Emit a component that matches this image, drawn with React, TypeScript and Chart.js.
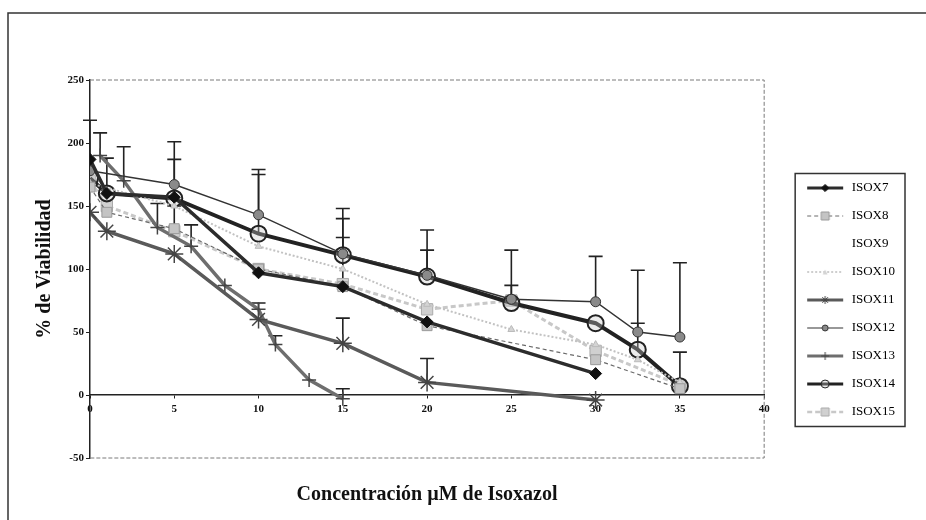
import React, { useEffect, useRef } from "react";
import { Chart, registerables } from "chart.js";

Chart.register(...registerables);

// ---------- data ----------
const seriesNames = ["ISOX7", "ISOX8", "ISOX9", "ISOX10", "ISOX11", "ISOX12", "ISOX13", "ISOX14", "ISOX15"];

const concISOX7 = [0, 1, 5, 10, 15, 20, 30];
const viabISOX7 = [187, 160, 157, 97, 86, 58, 17];
const errISOX7 = [31, 0, 0, 0, 0, 0, 0];

const concISOX8 = [0, 1, 5, 10, 15, 20, 30, 35];
const viabISOX8 = [165, 145, 132, 100, 86, 55, 28, 5];
const errISOX8 = [0, 0, 18, 0, 0, 0, 0, 0];

const concISOX9: number[] = [];
const viabISOX9: number[] = [];
const errISOX9: number[] = [];

const concISOX10 = [0, 5, 10, 15, 20, 25, 30, 32.5, 35];
const viabISOX10 = [168, 150, 118, 100, 72, 52, 40, 28, 10];
const errISOX10 = [0, 0, 0, 0, 0, 0, 0, 0, 0];

const concISOX11 = [0, 1, 5, 10, 15, 20, 30];
const viabISOX11 = [145, 130, 112, 60, 41, 10, -4];
const errISOX11 = [0, 0, 0, 0, 20, 19, 0];

const concISOX12 = [0, 5, 10, 15, 20, 25, 30, 32.5, 35];
const viabISOX12 = [178, 167, 143, 112, 95, 76, 74, 50, 46];
const errISOX12 = [0, 34, 36, 36, 36, 39, 36, 49, 59];

const concISOX13 = [0.6, 2, 4, 6, 8, 10, 11, 13, 15];
const viabISOX13 = [190, 170, 133, 118, 87, 68, 40, 12, -3];
const errISOX13 = [18, 27, 19, 17, 0, 5, 7, 0, 8];

const concISOX14 = [0, 1, 5, 10, 15, 20, 25, 30, 32.5, 35];
const viabISOX14 = [172, 160, 156, 128, 111, 94, 73, 57, 36, 7];
const errISOX14 = [0, 28, 31, 47, 29, 21, 14, 0, 21, 27];

const concISOX15 = [0, 1, 5, 10, 15, 20, 25, 30, 35];
const viabISOX15 = [170, 150, 130, 100, 88, 68, 75, 35, 8];
const errISOX15 = [0, 0, 0, 0, 37, 0, 0, 0, 0];

const xTickMin = 0;
const xTickMax = 40;
const xTickStep = 5;
const yTickMin = -50;
const yTickMax = 250;
const yTickStep = 50;

const xTitle = "Concentración µM de Isoxazol";
const yTitle = "% de Viabilidad";

// ---------- styles ----------
type Sty = {
  line: string; width: number; dash: number[]; point: string; radius: number;
  fill: string; border: string; bw: number;
};
const styles: Sty[] = [
  { line: "#2c2c2c", width: 3.5, dash: [], point: "rectRot", radius: 6, fill: "#111", border: "#111", bw: 1 },
  { line: "#6a6a6a", width: 1.2, dash: [4, 3], point: "rect", radius: 7, fill: "#c4c4c4", border: "#9a9a9a", bw: 1 },
  { line: "rgba(0,0,0,0)", width: 0, dash: [], point: "circle", radius: 0, fill: "rgba(0,0,0,0)", border: "rgba(0,0,0,0)", bw: 0 },
  { line: "#c2c2c2", width: 2, dash: [2, 2], point: "triangle", radius: 4, fill: "#d4d4d4", border: "#bbb", bw: 1 },
  { line: "#5a5a5a", width: 3.5, dash: [], point: "star", radius: 9, fill: "#444", border: "#444", bw: 1.5 },
  { line: "#333", width: 1.5, dash: [], point: "circle", radius: 5, fill: "#8a8a8a", border: "#333", bw: 1 },
  { line: "#6e6e6e", width: 3.5, dash: [], point: "cross", radius: 7, fill: "#444", border: "#444", bw: 1.5 },
  { line: "#222", width: 4, dash: [], point: "circle", radius: 8, fill: "rgba(200,200,200,0.35)", border: "#222", bw: 2 },
  { line: "#c8c8c8", width: 3, dash: [5, 3], point: "rect", radius: 8, fill: "#d0d0d0", border: "#aaa", bw: 1 },
];

const concs = [concISOX7, concISOX8, concISOX9, concISOX10, concISOX11, concISOX12, concISOX13, concISOX14, concISOX15];
const viabs = [viabISOX7, viabISOX8, viabISOX9, viabISOX10, viabISOX11, viabISOX12, viabISOX13, viabISOX14, viabISOX15];
const errs = [errISOX7, errISOX8, errISOX9, errISOX10, errISOX11, errISOX12, errISOX13, errISOX14, errISOX15];

function makeSample(s: Sty): HTMLCanvasElement {
  const c = document.createElement("canvas");
  c.width = 66;
  c.height = 14;
  const ctx = c.getContext("2d")!;
  const y = 7;
  if (s.width > 0) {
    ctx.strokeStyle = s.line;
    ctx.lineWidth = Math.max(1, s.width * 0.8);
    ctx.setLineDash(s.dash);
    ctx.beginPath();
    ctx.moveTo(28, y);
    ctx.lineTo(64, y);
    ctx.stroke();
    ctx.setLineDash([]);
  }
  const cx = 46;
  const r = Math.min(4, s.radius * 0.6);
  if (s.radius > 0) {
    ctx.fillStyle = s.fill;
    ctx.strokeStyle = s.border;
    ctx.lineWidth = 1;
    ctx.beginPath();
    if (s.point === "rectRot") {
      ctx.moveTo(cx, y - r); ctx.lineTo(cx + r, y); ctx.lineTo(cx, y + r); ctx.lineTo(cx - r, y); ctx.closePath();
      ctx.fill(); ctx.stroke();
    } else if (s.point === "rect") {
      ctx.rect(cx - r, y - r, 2 * r, 2 * r); ctx.fill(); ctx.stroke();
    } else if (s.point === "circle") {
      ctx.arc(cx, y, r, 0, Math.PI * 2); ctx.fill(); ctx.stroke();
    } else if (s.point === "triangle") {
      ctx.moveTo(cx, y - r); ctx.lineTo(cx + r, y + r); ctx.lineTo(cx - r, y + r); ctx.closePath(); ctx.fill();
    } else if (s.point === "star") {
      for (let k = 0; k < 4; k++) {
        const a = (k * Math.PI) / 4;
        ctx.moveTo(cx - r * Math.cos(a), y - r * Math.sin(a));
        ctx.lineTo(cx + r * Math.cos(a), y + r * Math.sin(a));
      }
      ctx.stroke();
    } else if (s.point === "cross") {
      ctx.moveTo(cx - r, y); ctx.lineTo(cx + r, y); ctx.moveTo(cx, y - r); ctx.lineTo(cx, y + r); ctx.stroke();
    }
  }
  return c;
}

const plotFrame = {
  id: "plotFrame",
  beforeDraw(chart: any) {
    const { ctx, width, height } = chart;
    ctx.save();
    ctx.fillStyle = "#fff";
    ctx.fillRect(0, 0, width, height);
    ctx.strokeStyle = "#333";
    ctx.lineWidth = 1.5;
    ctx.beginPath();
    ctx.moveTo(8, height);
    ctx.lineTo(8, 13);
    ctx.lineTo(width, 13);
    ctx.stroke();
    ctx.restore();
  },
  beforeDatasetsDraw(chart: any) {
    const { ctx, chartArea: a } = chart;
    ctx.save();
    ctx.strokeStyle = "#7a7a7a";
    ctx.lineWidth = 1;
    ctx.setLineDash([4, 2]);
    ctx.beginPath();
    ctx.moveTo(a.left, a.top);
    ctx.lineTo(a.right, a.top);
    ctx.lineTo(a.right, a.bottom);
    ctx.lineTo(a.left, a.bottom);
    ctx.stroke();
    ctx.setLineDash([]);
    // error bars
    const ys = chart.scales.y;
    ctx.strokeStyle = "#222";
    ctx.lineWidth = 1.6;
    chart.data.datasets.forEach((ds: any, i: number) => {
      const e: number[] = errs[i];
      const meta = chart.getDatasetMeta(i);
      meta.data.forEach((pt: any, j: number) => {
        if (!e[j]) return;
        const v = viabs[i][j];
        const yTop = ys.getPixelForValue(v + e[j]);
        ctx.beginPath();
        ctx.moveTo(pt.x, pt.y);
        ctx.lineTo(pt.x, yTop);
        ctx.moveTo(pt.x - 7, yTop);
        ctx.lineTo(pt.x + 7, yTop);
        ctx.stroke();
      });
    });
    ctx.restore();
  },
  afterDraw(chart: any) {
    const lg = chart.legend;
    if (!lg || !lg.legendHitBoxes || !lg.legendHitBoxes.length) return;
    const hb = lg.legendHitBoxes;
    let l = Infinity, t = Infinity, r = -Infinity, b = -Infinity;
    hb.forEach((h: any) => {
      l = Math.min(l, h.left); t = Math.min(t, h.top);
      r = Math.max(r, h.left + h.width); b = Math.max(b, h.top + h.height);
    });
    const { ctx } = chart;
    ctx.save();
    ctx.strokeStyle = "#333";
    ctx.lineWidth = 1.5;
    ctx.strokeRect(l + 16, t - 8, r - l - 6, b - t + 16);
    ctx.restore();
  },
};

export default function App() {
  const ref = useRef<HTMLCanvasElement | null>(null);
  useEffect(() => {
    document.body.style.margin = "0";
    const samples = styles.map(makeSample);
    const datasets = seriesNames.map((name, i) => {
      const s = styles[i];
      return {
        label: name,
        data: concs[i].map((x, j) => ({ x, y: viabs[i][j] })),
        borderColor: s.line,
        borderWidth: s.width,
        borderDash: s.dash,
        pointStyle: s.point as any,
        pointRadius: s.radius,
        pointBackgroundColor: s.fill,
        pointBorderColor: s.border,
        pointBorderWidth: s.bw,
        showLine: true,
        fill: false,
        tension: 0,
      };
    });
    const chart = new Chart(ref.current!, {
      type: "scatter",
      data: { datasets },
      plugins: [plotFrame],
      options: {
        animation: false,
        responsive: false,
        layout: { padding: { left: 0, top: 80, right: 21, bottom: 0 } },
        scales: {
          x: {
            type: "linear",
            position: { y: 0 } as any,
            min: xTickMin,
            max: xTickMax,
            ticks: { stepSize: xTickStep, color: "#111", font: { family: "Liberation Serif", size: 11, weight: "bold" }, padding: 5 },
            grid: { display: true, drawOnChartArea: false, tickLength: 3, color: "#222" },
            border: { display: true, color: "#222", width: 1.5 },
          },
          y: {
            type: "linear",
            min: yTickMin,
            max: yTickMax,
            ticks: { stepSize: yTickStep, color: "#111", font: { family: "Liberation Serif", size: 11, weight: "bold" }, padding: 2 },
            grid: { display: true, drawOnChartArea: false, tickLength: 4, color: "#222" },
            border: { display: true, color: "#222", width: 1.5 },
            title: {
              display: true,
              text: yTitle,
              color: "#111",
              font: { family: "Liberation Serif", size: 20, weight: "bold" },
              padding: { top: 33, bottom: 0 },
            },
            afterFit: (scale: any) => { scale.width = 90; },
          },
        },
        plugins: {
          title: {
            display: true,
            text: xTitle,
            position: "bottom",
            fullSize: false,
            color: "#111",
            font: { family: "Liberation Serif", size: 20, weight: "bold" },
            padding: { top: 25, bottom: 13 },
          },
          legend: {
            display: true,
            position: "right",
            align: "center",
            labels: {
              usePointStyle: true,
              pointStyleWidth: 66,
              padding: 15,
              color: "#111",
              font: { family: "Liberation Serif", size: 13 },
              generateLabels: () =>
                seriesNames.map((name, i) => ({
                  text: name,
                  pointStyle: samples[i],
                  fillStyle: "rgba(0,0,0,0)",
                  strokeStyle: "rgba(0,0,0,0)",
                  lineWidth: 0,
                  hidden: false,
                  datasetIndex: i,
                })),
            },
          },
          tooltip: { enabled: false },
        },
      },
    });
    return () => chart.destroy();
  }, []);
  return (
    <div style={{ position: "absolute", left: 0, top: 0, width: 926, height: 520 }}>
      <canvas ref={ref} width={926} height={520} />
    </div>
  );
}
